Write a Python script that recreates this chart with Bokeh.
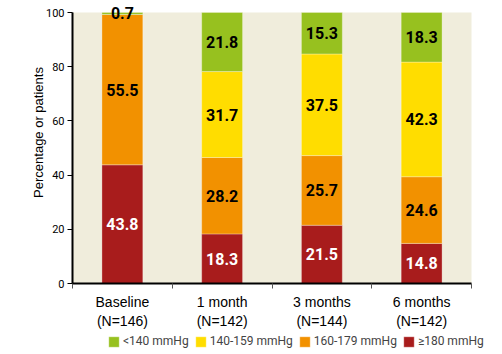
from bokeh.plotting import figure
from bokeh.models import ColumnDataSource, Range1d, FixedTicker, Legend, LegendItem, LabelSet, Label
from bokeh.core.properties import value
from bokeh.embed import file_html
from bokeh.resources import INLINE

categories = ["Baseline\n(N=146)", "1 month\n(N=142)", "3 months\n(N=144)", "6 months\n(N=142)"]
bp_ge180 = [43.8, 18.3, 21.5, 14.8]
bp_160_179 = [55.5, 28.2, 25.7, 24.6]
bp_140_159 = [0.0, 31.7, 37.5, 42.3]
bp_lt140 = [0.7, 21.8, 15.3, 18.3]
series_names = ["\u2265180 mmHg", "160-179 mmHg", "140-159 mmHg", "<140 mmHg"]
series_colors = ["#A81C1C", "#F29100", "#FFDD00", "#97C11F"]
label_colors = ["white", "black", "black", "black"]
y_ticks = [0, 20, 40, 60, 80, 100]

FONT = "Roboto"
REG = "Liberation Sans"

W, H = 502, 354
FL, FR, FT, FB = 72, 471, 12, 283          # plot area in pixels
n = len(categories)
xpx = (FR - FL) / n
ypx = (FB - FT) / 100.0

xs = [i + 0.5 for i in range(n)]
series = [bp_ge180, bp_160_179, bp_140_159, bp_lt140]

p = figure(width=W, height=H, output_backend="svg", toolbar_location=None,
           x_range=Range1d(-FL / xpx, n + (W - FR) / xpx),
           y_range=Range1d(-(H - FB) / ypx, 100 + FT / ypx),
           min_border_left=0, min_border_right=0, min_border_top=0, min_border_bottom=0)
p.background_fill_color = "white"
p.border_fill_color = "white"
p.outline_line_color = None
p.grid.visible = False

p.quad(left=0, right=n, bottom=0, top=100, fill_color="#F0EDDC", line_color=None)

bottoms = [0.0] * n
renderers = []
for vals, color, lc in zip(series, series_colors, label_colors):
    tops = [b + v for b, v in zip(bottoms, vals)]
    src = ColumnDataSource(dict(x=xs, bottom=bottoms, top=tops))
    r = p.vbar(x="x", bottom="bottom", top="top", width=0.41, source=src,
               fill_color=color, line_color="white", line_alpha=0.3, line_width=1)
    renderers.append(r)
    lx, ly, lt = [], [], []
    for x, b, v in zip(xs, bottoms, vals):
        if v > 0:
            lx.append(x); ly.append(b + v / 2); lt.append(f"{v:.1f}")
    lsrc = ColumnDataSource(dict(x=lx, y=ly, t=lt))
    p.add_layout(LabelSet(x="x", y="y", text="t", source=lsrc, text_align="center",
                          text_baseline="middle", text_font=value(FONT),
                          text_font_style="bold", text_font_size="16px",
                          text_color=lc))
    bottoms = tops

# x axis
p.xaxis.fixed_location = 0
p.xaxis.bounds = (0, n)
p.xaxis.ticker = FixedTicker(ticks=xs, minor_ticks=list(range(n + 1)))
p.xaxis.major_label_overrides = {x: c for x, c in zip(xs, categories)}
p.xaxis.major_tick_out = 0
p.xaxis.major_tick_in = 0
p.xaxis.minor_tick_out = 5
p.xaxis.minor_tick_in = 0
p.xaxis.minor_tick_line_color = "#555555"
p.xaxis.axis_line_color = "black"
p.xaxis.axis_line_width = 2
p.xaxis.major_label_text_font = REG
p.xaxis.major_label_text_font_size = "14px"
p.xaxis.major_label_text_color = "black"
p.xaxis.major_label_standoff = 5

# y axis
p.yaxis.fixed_location = 0
p.yaxis.bounds = (0, 100)
p.yaxis.ticker = FixedTicker(ticks=y_ticks, minor_ticks=[])
p.yaxis.axis_line_width = 2
p.yaxis.axis_line_color = "black"
p.yaxis.major_tick_out = 5
p.yaxis.major_tick_in = 0
p.yaxis.major_label_text_font = FONT
p.yaxis.major_label_text_font_size = "11px"
p.yaxis.major_label_text_color = "black"
p.yaxis.major_label_standoff = 3

p.add_layout(Label(x=38, y=H - 132, x_units="screen", y_units="screen",
                   text="Percentage or patients", angle=90, angle_units="deg",
                   text_align="center", text_baseline="middle",
                   text_font=REG, text_font_size="13px", text_color="black"))

items = [LegendItem(label=series_names[i], renderers=[renderers[i]]) for i in [3, 2, 1, 0]]
legend = Legend(items=items, orientation="horizontal", location=(107, 6),
                label_text_font=FONT, label_text_font_size="12px",
                glyph_width=13, glyph_height=13, label_standoff=3, spacing=5,
                padding=2, margin=0, border_line_color=None, background_fill_alpha=0)
p.add_layout(legend, "center")

open("out.html", "w").write(file_html(p, INLINE))
